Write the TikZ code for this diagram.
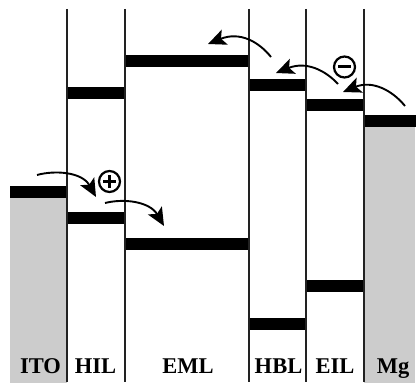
\documentclass[tikz,border=0pt]{standalone}
\usepackage{fontspec}
\setmainfont{Liberation Serif}
\usetikzlibrary{arrows.meta}
\definecolor{fillgray}{HTML}{CCCCCC}
\definecolor{linegray}{HTML}{222222}
\tikzset{
  layerline/.style={draw=linegray, line width=1.4pt},
  levelbar/.style={fill=black, draw=black, line width=0.4pt},
  metal/.style={fill=fillgray, draw=none},
  hop/.style={line width=1.9pt, -{Stealth[length=18pt, width=16pt, inset=4pt]}},
  carrier/.style={circle, draw=black, line width=2.2pt, minimum size=21pt, inner sep=0pt},
  lbl/.style={font=\bfseries\fontsize{22.5}{26}\selectfont, anchor=base}
}
\begin{document}
\begin{tikzpicture}[x=1pt, y=-1pt]
\useasboundingbox (0,0) rectangle (417,385);
% metal grey regions
\fill[metal] (10,197) rectangle (67,383);
\fill[metal] (364,126) rectangle (415,383);
% energy level bars
\draw[levelbar] (10,186) rectangle (67,197);   % ITO
\draw[levelbar] (67,87) rectangle (125,98);    % HIL LUMO
\draw[levelbar] (67,212) rectangle (125,223);  % HIL HOMO
\draw[levelbar] (125,55) rectangle (249,66);   % EML LUMO
\draw[levelbar] (125,238) rectangle (249,249); % EML HOMO
\draw[levelbar] (249,79) rectangle (306,90);   % HBL LUMO
\draw[levelbar] (249,318) rectangle (306,329); % HBL HOMO
\draw[levelbar] (306,99) rectangle (364,110);  % EIL LUMO
\draw[levelbar] (306,280) rectangle (364,291); % EIL HOMO
\draw[levelbar] (364,115) rectangle (415,126); % Mg
% layer boundaries
\foreach \xx in {67,125,249,306,364}
  \draw[layerline] (\xx,9) -- (\xx,382);
% labels
\node[lbl] (ito) at (40.5,373) {ITO};
\node[lbl] (hil) at (95.5,373) {HIL};
\node[lbl] (eml) at (188,373) {EML};
\node[lbl] (hbl) at (278.5,373) {HBL};
\node[lbl] (eil) at (335,373) {EIL};
\node[lbl] (mg)  at (393,373) {Mg};
% carriers
\node[carrier] (hole) at (109.5,181.5) {};
\draw[line width=2.5pt] (hole.center) ++(-6.5,0) -- ++(13,0);
\draw[line width=2.5pt] (hole.center) ++(0,-6.5) -- ++(0,13);
\node[carrier] (elec) at (344.5,67) {};
\draw[line width=3pt] (elec.center) ++(-6.5,0) -- ++(13,0);
% hopping arrow end points
\coordinate (h1s) at (37,175);
\coordinate (h1e) at (96,197);
\coordinate (h2s) at (105,203);
\coordinate (h2e) at (164,226);
\coordinate (e1s) at (405,106);
\coordinate (e1e) at (343,92);
\coordinate (e2s) at (338,84);
\coordinate (e2e) at (276,73);
\coordinate (e3s) at (271,57);
\coordinate (e3e) at (208,44);
\draw[hop] (h1s) .. controls (55,170) and (82,172) .. (h1e);
\draw[hop] (h2s) .. controls (125,198) and (150,202) .. (h2e);
\draw[hop] (e1s) .. controls (392,90) and (372,80) .. (e1e);
\draw[hop] (e2s) .. controls (325,70) and (306,61) .. (e2e);
\draw[hop] (e3s) .. controls (259,42) and (240,31) .. (e3e);
\end{tikzpicture}
\end{document}
